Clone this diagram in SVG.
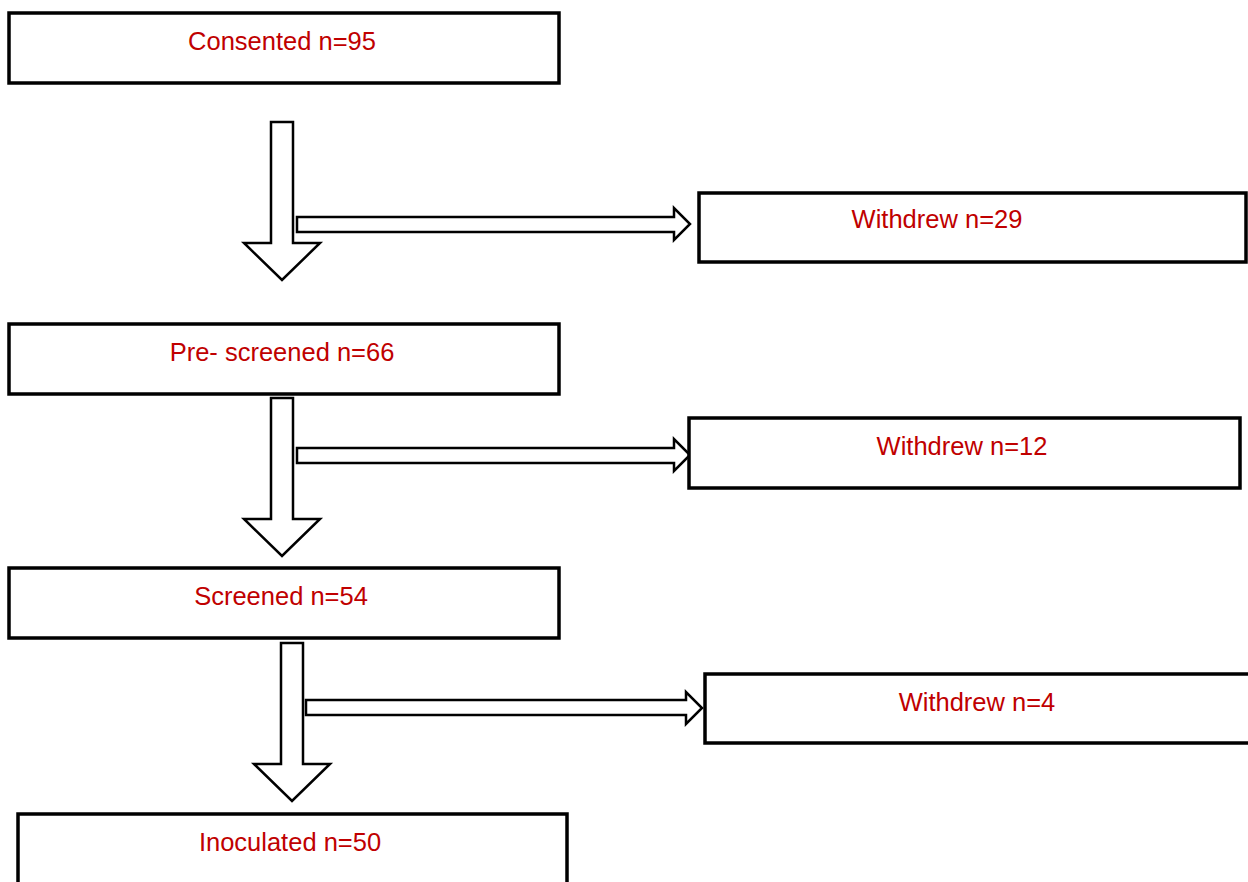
<svg xmlns="http://www.w3.org/2000/svg" width="1248" height="882" viewBox="0 0 1248 882">
<style>
.box{fill:#fff;stroke:#000;stroke-width:3.5}
.arr{fill:#fff;stroke:#000;stroke-width:2.5;stroke-linejoin:miter}
.t{font-family:"Liberation Sans",Arial,sans-serif;font-size:25.5px;fill:#c00000;text-anchor:middle}
</style>
<rect width="1248" height="882" fill="#fff"/>
<g id="connectors">
<polygon class="arr" points="271,122 293,122 293,243 320,243 282,280 244,243 271,243"/>
<polygon class="arr" points="297,217 674,217 674,208 690,224 674,240 674,232 297,232"/>
<polygon class="arr" points="271,398 293,398 293,519 320,519 282,556 244,519 271,519"/>
<polygon class="arr" points="297,448 674,448 674,439 690,455 674,471 674,463 297,463"/>
<polygon class="arr" points="281,643 303,643 303,764 330,764 292,801 254,764 281,764"/>
<polygon class="arr" points="306,700 686,700 686,692 702,708 686,724 686,715 306,715"/>
</g>
<g id="consented"><rect class="box" x="9" y="13" width="550" height="70"/><text class="t" x="282" y="50">Consented n=95</text></g>
<g id="withdrew1"><rect class="box" x="699" y="193" width="547" height="69"/><text class="t" x="937" y="228">Withdrew n=29</text></g>
<g id="prescreened"><rect class="box" x="9" y="324" width="550" height="70"/><text class="t" x="282" y="361">Pre- screened n=66</text></g>
<g id="withdrew2"><rect class="box" x="689" y="418" width="551" height="70"/><text class="t" x="962" y="455">Withdrew n=12</text></g>
<g id="screened"><rect class="box" x="9" y="568" width="550" height="70"/><text class="t" x="281" y="605">Screened n=54</text></g>
<g id="withdrew3"><rect class="box" x="705" y="674" width="560" height="69"/><text class="t" x="977" y="711">Withdrew n=4</text></g>
<g id="inoculated"><rect class="box" x="18" y="814" width="549" height="90"/><text class="t" x="290" y="851">Inoculated n=50</text></g>
</svg>
